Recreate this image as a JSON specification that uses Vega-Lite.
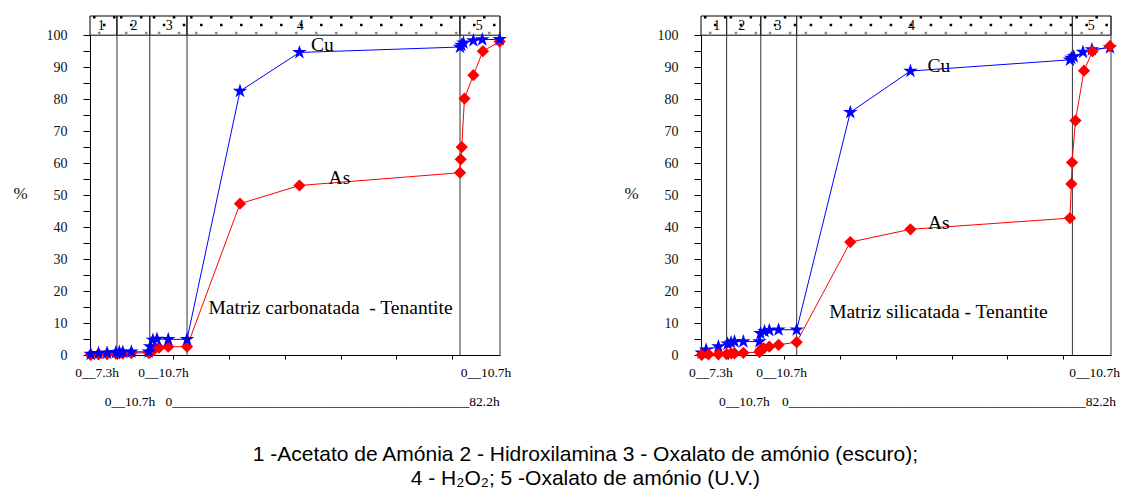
{
  "$schema": "https://vega.github.io/schema/vega-lite/v6.json",
  "background": "#ffffff",
  "autosize": {"type": "pad"},
  "padding": {"left": 12, "top": 15, "right": 0, "bottom": 4},
  "spacing": 201,
  "bounds": "flush",
  "config": {
    "view": {"stroke": null},
    "font": "Liberation Serif",
    "text": {"font": "Liberation Serif", "color": "#000000"},
    "axis": {
      "grid": false,
      "domainColor": "#000000",
      "tickColor": "#000000",
      "labelColor": "#111111",
      "labelFont": "Liberation Serif",
      "labelFontSize": 14,
      "titleFont": "Liberation Serif",
      "titleColor": "#111111"
    },
    "axisY": {"labelFont": "Liberation Serif", "labelFontSize": 14, "labelOverlap": false}
  },
  "title": {
    "text": [
      "1 -Acetato de Amónia  2 - Hidroxilamina  3 - Oxalato de amónio (escuro);",
      "4 - H₂O₂; 5 -Oxalato de amónio (U.V.)"
    ],
    "orient": "bottom",
    "anchor": "middle",
    "frame": "bounds",
    "dx": 19,
    "offset": 35,
    "font": "Liberation Sans",
    "fontSize": 21,
    "fontWeight": "normal",
    "color": "#000000",
    "lineHeight": 24
  },
  "datasets": {
    "stages": [
      {"panel": "C", "stage": "1", "x0": 0, "x1": 7.9, "hx": 3.3},
      {"panel": "C", "stage": "2", "x0": 7.9, "x1": 17.5, "hx": 12.9},
      {"panel": "C", "stage": "3", "x0": 17.5, "x1": 28.4, "hx": 23.2},
      {"panel": "C", "stage": "4", "x0": 28.4, "x1": 108.3, "hx": 61.5},
      {"panel": "C", "stage": "5", "x0": 108.3, "x1": 120, "hx": 113.9},
      {"panel": "S", "stage": "1", "x0": 0, "x1": 7.5, "hx": 4.6},
      {"panel": "S", "stage": "2", "x0": 7.5, "x1": 17.5, "hx": 11.9},
      {"panel": "S", "stage": "3", "x0": 17.5, "x1": 28.0, "hx": 22.5},
      {"panel": "S", "stage": "4", "x0": 28.0, "x1": 108.7, "hx": 61.6},
      {"panel": "S", "stage": "5", "x0": 108.7, "x1": 120, "hx": 114.2}
    ],
    "series": [
      {"panel": "C", "element": "As", "pos": 0.2, "pct": 0.0},
      {"panel": "C", "element": "As", "pos": 2.5, "pct": 0.2},
      {"panel": "C", "element": "As", "pos": 5.0, "pct": 0.3},
      {"panel": "C", "element": "As", "pos": 7.6, "pct": 0.4},
      {"panel": "C", "element": "As", "pos": 8.6, "pct": 0.5},
      {"panel": "C", "element": "As", "pos": 9.6, "pct": 0.5},
      {"panel": "C", "element": "As", "pos": 12.1, "pct": 0.6},
      {"panel": "C", "element": "As", "pos": 17.2, "pct": 0.7},
      {"panel": "C", "element": "As", "pos": 17.6, "pct": 0.8},
      {"panel": "C", "element": "As", "pos": 18.6, "pct": 1.6},
      {"panel": "C", "element": "As", "pos": 20.2, "pct": 2.3},
      {"panel": "C", "element": "As", "pos": 22.9, "pct": 2.6},
      {"panel": "C", "element": "As", "pos": 28.4, "pct": 2.6},
      {"panel": "C", "element": "As", "pos": 43.9, "pct": 47.3},
      {"panel": "C", "element": "As", "pos": 61.3, "pct": 53.0},
      {"panel": "C", "element": "As", "pos": 108.3, "pct": 57.0},
      {"panel": "C", "element": "As", "pos": 108.5, "pct": 61.2},
      {"panel": "C", "element": "As", "pos": 108.8, "pct": 65.0},
      {"panel": "C", "element": "As", "pos": 109.6, "pct": 80.2},
      {"panel": "C", "element": "As", "pos": 112.2, "pct": 87.5},
      {"panel": "C", "element": "As", "pos": 115.0, "pct": 95.0},
      {"panel": "C", "element": "As", "pos": 119.9, "pct": 98.0},
      {"panel": "C", "element": "Cu", "pos": 0.2, "pct": 0.3},
      {"panel": "C", "element": "Cu", "pos": 2.5, "pct": 0.5},
      {"panel": "C", "element": "Cu", "pos": 5.0, "pct": 0.7},
      {"panel": "C", "element": "Cu", "pos": 7.6, "pct": 0.8},
      {"panel": "C", "element": "Cu", "pos": 8.6, "pct": 0.9},
      {"panel": "C", "element": "Cu", "pos": 9.6, "pct": 0.9},
      {"panel": "C", "element": "Cu", "pos": 12.1, "pct": 1.0},
      {"panel": "C", "element": "Cu", "pos": 17.2, "pct": 1.0},
      {"panel": "C", "element": "Cu", "pos": 17.6, "pct": 2.6},
      {"panel": "C", "element": "Cu", "pos": 18.4, "pct": 4.7},
      {"panel": "C", "element": "Cu", "pos": 19.6, "pct": 5.0},
      {"panel": "C", "element": "Cu", "pos": 22.9, "pct": 4.9},
      {"panel": "C", "element": "Cu", "pos": 28.4, "pct": 4.9},
      {"panel": "C", "element": "Cu", "pos": 43.9, "pct": 82.5},
      {"panel": "C", "element": "Cu", "pos": 61.3, "pct": 94.6},
      {"panel": "C", "element": "Cu", "pos": 108.3, "pct": 96.3},
      {"panel": "C", "element": "Cu", "pos": 108.7, "pct": 96.9},
      {"panel": "C", "element": "Cu", "pos": 109.3, "pct": 97.6},
      {"panel": "C", "element": "Cu", "pos": 112.2, "pct": 98.3},
      {"panel": "C", "element": "Cu", "pos": 114.8, "pct": 98.6},
      {"panel": "C", "element": "Cu", "pos": 119.9, "pct": 98.7},
      {"panel": "S", "element": "As", "pos": 0.2, "pct": 0.0},
      {"panel": "S", "element": "As", "pos": 2.2, "pct": 0.2},
      {"panel": "S", "element": "As", "pos": 5.1, "pct": 0.2},
      {"panel": "S", "element": "As", "pos": 7.5, "pct": 0.3},
      {"panel": "S", "element": "As", "pos": 8.8, "pct": 0.5},
      {"panel": "S", "element": "As", "pos": 9.8, "pct": 0.5},
      {"panel": "S", "element": "As", "pos": 12.4, "pct": 0.7},
      {"panel": "S", "element": "As", "pos": 17.1, "pct": 0.9},
      {"panel": "S", "element": "As", "pos": 17.4, "pct": 1.6},
      {"panel": "S", "element": "As", "pos": 18.4, "pct": 2.1},
      {"panel": "S", "element": "As", "pos": 20.0, "pct": 2.6},
      {"panel": "S", "element": "As", "pos": 22.7, "pct": 3.2},
      {"panel": "S", "element": "As", "pos": 28.0, "pct": 4.0},
      {"panel": "S", "element": "As", "pos": 43.7, "pct": 35.3},
      {"panel": "S", "element": "As", "pos": 61.3, "pct": 39.3},
      {"panel": "S", "element": "As", "pos": 108.0, "pct": 42.8},
      {"panel": "S", "element": "As", "pos": 108.4, "pct": 53.5},
      {"panel": "S", "element": "As", "pos": 108.6, "pct": 60.2},
      {"panel": "S", "element": "As", "pos": 109.6, "pct": 73.3},
      {"panel": "S", "element": "As", "pos": 112.1, "pct": 88.9},
      {"panel": "S", "element": "As", "pos": 114.6, "pct": 95.0},
      {"panel": "S", "element": "As", "pos": 119.7, "pct": 96.6},
      {"panel": "S", "element": "Cu", "pos": 0.2, "pct": 0.7},
      {"panel": "S", "element": "Cu", "pos": 1.5, "pct": 1.6},
      {"panel": "S", "element": "Cu", "pos": 5.1, "pct": 2.6},
      {"panel": "S", "element": "Cu", "pos": 7.8, "pct": 3.5},
      {"panel": "S", "element": "Cu", "pos": 8.8, "pct": 3.9},
      {"panel": "S", "element": "Cu", "pos": 9.8, "pct": 4.2},
      {"panel": "S", "element": "Cu", "pos": 12.4, "pct": 4.2},
      {"panel": "S", "element": "Cu", "pos": 17.1, "pct": 4.2},
      {"panel": "S", "element": "Cu", "pos": 17.4, "pct": 6.8},
      {"panel": "S", "element": "Cu", "pos": 18.6, "pct": 7.4},
      {"panel": "S", "element": "Cu", "pos": 20.0, "pct": 7.7},
      {"panel": "S", "element": "Cu", "pos": 22.7, "pct": 7.9},
      {"panel": "S", "element": "Cu", "pos": 28.0, "pct": 7.9},
      {"panel": "S", "element": "Cu", "pos": 43.7, "pct": 75.9},
      {"panel": "S", "element": "Cu", "pos": 61.3, "pct": 88.8},
      {"panel": "S", "element": "Cu", "pos": 108.0, "pct": 92.3},
      {"panel": "S", "element": "Cu", "pos": 108.4, "pct": 92.8},
      {"panel": "S", "element": "Cu", "pos": 109.1, "pct": 93.3},
      {"panel": "S", "element": "Cu", "pos": 111.8, "pct": 94.7},
      {"panel": "S", "element": "Cu", "pos": 114.4, "pct": 95.5},
      {"panel": "S", "element": "Cu", "pos": 119.7, "pct": 96.1}
    ],
    "notes": [
      {"panel": "C", "label": "Cu", "pos": 68.0, "pct": 96.8},
      {"panel": "C", "label": "As", "pos": 73.0, "pct": 55.3},
      {"panel": "C", "label": "Matriz carbonatada \u00a0- Tenantite", "pos": 70.4, "pct": 14.8},
      {"panel": "S", "label": "Cu", "pos": 69.6, "pct": 90.3},
      {"panel": "S", "label": "As", "pos": 69.6, "pct": 41.2},
      {"panel": "S", "label": "Matriz silicatada - Tenantite", "pos": 69.5, "pct": 13.4}
    ],
    "timelabels": [
      {"panel": "C", "row": 1, "pos": 2.1, "label": "0__7.3h"},
      {"panel": "C", "row": 1, "pos": 21.5, "label": "0__10.7h"},
      {"panel": "C", "row": 1, "pos": 115.9, "label": "0__10.7h"},
      {"panel": "C", "row": 2, "pos": 11.7, "label": "0__10.7h"},
      {"panel": "C", "row": 2, "pos": 71.0, "label": "0____________________________________________82.2h"},
      {"panel": "S", "row": 1, "pos": 2.9, "label": "0__7.3h"},
      {"panel": "S", "row": 1, "pos": 23.6, "label": "0__10.7h"},
      {"panel": "S", "row": 1, "pos": 115.2, "label": "0__10.7h"},
      {"panel": "S", "row": 2, "pos": 12.7, "label": "0__10.7h"},
      {"panel": "S", "row": 2, "pos": 72.6, "label": "0____________________________________________82.2h"}
    ]
  },
  "hconcat": [
    {
      "width": 410,
      "height": 339,
      "layer": [
        {
          "data": {"name": "stages"},
          "transform": [{"filter": "datum.panel === 'C'"}],
          "mark": {"type": "rect", "fill": "#ffffff", "stroke": "#000000", "strokeWidth": 1},
          "encoding": {
            "x": {"field": "x0", "type": "quantitative", "scale": {"domain": [0, 120], "nice": false, "zero": false},
              "axis": {"values": [8, 24.2, 40.6, 57, 73.4, 89.7, 105.9], "labels": false, "tickSize": 4, "title": null}},
            "x2": {"field": "x1"},
            "y": {"datum": 100, "type": "quantitative", "scale": {"domain": [0, 106], "nice": false, "zero": false},
              "axis": {"values": [0, 5, 10, 15, 20, 25, 30, 35, 40, 45, 50, 55, 60, 65, 70, 75, 80, 85, 90, 95, 100], "labelExpr": "datum.value % 10 === 0 ? datum.label : ''", "labelOverlap": false, "labelFont": "Liberation Serif", "labelFontSize": 14, "tickSize": 7, "labelPadding": 16, "title": "%", "titleAngle": 0, "titleX": -70, "titleY": 177, "titleAlign": "center", "titleBaseline": "middle", "titleFont": "Liberation Serif", "titleFontSize": 17, "titleFontWeight": "normal"}},
            "y2": {"datum": 106}
          }
        },
        {
          "data": {"name": "stages"},
          "transform": [{"filter": "datum.panel === 'C'"}],
          "mark": {"type": "rule", "color": "#000000", "strokeWidth": 2.5, "strokeDash": [2.5, 17.5], "strokeDashOffset": -3},
          "encoding": {
            "x": {"field": "x0", "type": "quantitative", "axis": {"values": [8, 24.2, 40.6, 57, 73.4, 89.7, 105.9], "labels": false, "tickSize": 4, "title": null}},
            "x2": {"field": "x1"},
            "y": {"datum": 105.6, "type": "quantitative", "axis": {"values": [0, 5, 10, 15, 20, 25, 30, 35, 40, 45, 50, 55, 60, 65, 70, 75, 80, 85, 90, 95, 100], "labelExpr": "datum.value % 10 === 0 ? datum.label : ''", "labelOverlap": false, "labelFont": "Liberation Serif", "labelFontSize": 14, "tickSize": 7, "labelPadding": 16, "title": "%", "titleAngle": 0, "titleX": -70, "titleY": 177, "titleAlign": "center", "titleBaseline": "middle", "titleFont": "Liberation Serif", "titleFontSize": 17, "titleFontWeight": "normal"}}
          }
        },
        {
          "data": {"name": "stages"},
          "transform": [{"filter": "datum.panel === 'C'"}],
          "mark": {"type": "rule", "color": "#000000", "strokeWidth": 2.5, "strokeDash": [2.5, 17.5], "strokeDashOffset": -13},
          "encoding": {
            "x": {"field": "x0", "type": "quantitative", "axis": {"values": [8, 24.2, 40.6, 57, 73.4, 89.7, 105.9], "labels": false, "tickSize": 4, "title": null}},
            "x2": {"field": "x1"},
            "y": {"datum": 103.2, "type": "quantitative", "axis": {"values": [0, 5, 10, 15, 20, 25, 30, 35, 40, 45, 50, 55, 60, 65, 70, 75, 80, 85, 90, 95, 100], "labelExpr": "datum.value % 10 === 0 ? datum.label : ''", "labelOverlap": false, "labelFont": "Liberation Serif", "labelFontSize": 14, "tickSize": 7, "labelPadding": 16, "title": "%", "titleAngle": 0, "titleX": -70, "titleY": 177, "titleAlign": "center", "titleBaseline": "middle", "titleFont": "Liberation Serif", "titleFontSize": 17, "titleFontWeight": "normal"}}
          }
        },
        {
          "data": {"name": "stages"},
          "transform": [{"filter": "datum.panel === 'C'"}],
          "mark": {"type": "rule", "color": "#8a8a8a", "strokeWidth": 2.5, "strokeDash": [2.5, 17.5], "strokeDashOffset": -8},
          "encoding": {
            "x": {"field": "x0", "type": "quantitative", "axis": {"values": [8, 24.2, 40.6, 57, 73.4, 89.7, 105.9], "labels": false, "tickSize": 4, "title": null}},
            "x2": {"field": "x1"},
            "y": {"datum": 100.7, "type": "quantitative", "axis": {"values": [0, 5, 10, 15, 20, 25, 30, 35, 40, 45, 50, 55, 60, 65, 70, 75, 80, 85, 90, 95, 100], "labelExpr": "datum.value % 10 === 0 ? datum.label : ''", "labelOverlap": false, "labelFont": "Liberation Serif", "labelFontSize": 14, "tickSize": 7, "labelPadding": 16, "title": "%", "titleAngle": 0, "titleX": -70, "titleY": 177, "titleAlign": "center", "titleBaseline": "middle", "titleFont": "Liberation Serif", "titleFontSize": 17, "titleFontWeight": "normal"}}
          }
        },
        {
          "data": {"name": "stages"},
          "transform": [{"filter": "datum.panel === 'C'"}],
          "mark": {"type": "rule", "color": "#333333", "strokeWidth": 1},
          "encoding": {
            "x": {"field": "x1", "type": "quantitative", "axis": {"values": [8, 24.2, 40.6, 57, 73.4, 89.7, 105.9], "labels": false, "tickSize": 4, "title": null}},
            "y": {"datum": 0, "type": "quantitative", "axis": {"values": [0, 5, 10, 15, 20, 25, 30, 35, 40, 45, 50, 55, 60, 65, 70, 75, 80, 85, 90, 95, 100], "labelExpr": "datum.value % 10 === 0 ? datum.label : ''", "labelOverlap": false, "labelFont": "Liberation Serif", "labelFontSize": 14, "tickSize": 7, "labelPadding": 16, "title": "%", "titleAngle": 0, "titleX": -70, "titleY": 177, "titleAlign": "center", "titleBaseline": "middle", "titleFont": "Liberation Serif", "titleFontSize": 17, "titleFontWeight": "normal"}},
            "y2": {"datum": 106}
          }
        },
        {
          "data": {"name": "stages"},
          "transform": [{"filter": "datum.panel === 'C'"}],
          "mark": {"type": "text", "fontSize": 14, "baseline": "middle", "align": "center"},
          "encoding": {
            "x": {"field": "hx", "type": "quantitative", "axis": {"values": [8, 24.2, 40.6, 57, 73.4, 89.7, 105.9], "labels": false, "tickSize": 4, "title": null}},
            "y": {"datum": 103, "type": "quantitative", "axis": {"values": [0, 5, 10, 15, 20, 25, 30, 35, 40, 45, 50, 55, 60, 65, 70, 75, 80, 85, 90, 95, 100], "labelExpr": "datum.value % 10 === 0 ? datum.label : ''", "labelOverlap": false, "labelFont": "Liberation Serif", "labelFontSize": 14, "tickSize": 7, "labelPadding": 16, "title": "%", "titleAngle": 0, "titleX": -70, "titleY": 177, "titleAlign": "center", "titleBaseline": "middle", "titleFont": "Liberation Serif", "titleFontSize": 17, "titleFontWeight": "normal"}},
            "text": {"field": "stage"}
          }
        },
        {
          "data": {"name": "series"},
          "transform": [{"filter": "datum.panel === 'C' && datum.element === 'As'"}],
          "mark": {"type": "line", "color": "#ff0000", "strokeWidth": 1},
          "encoding": {
            "x": {"field": "pos", "type": "quantitative", "axis": {"values": [8, 24.2, 40.6, 57, 73.4, 89.7, 105.9], "labels": false, "tickSize": 4, "title": null}},
            "y": {"field": "pct", "type": "quantitative", "axis": {"values": [0, 5, 10, 15, 20, 25, 30, 35, 40, 45, 50, 55, 60, 65, 70, 75, 80, 85, 90, 95, 100], "labelExpr": "datum.value % 10 === 0 ? datum.label : ''", "labelOverlap": false, "labelFont": "Liberation Serif", "labelFontSize": 14, "tickSize": 7, "labelPadding": 16, "title": "%", "titleAngle": 0, "titleX": -70, "titleY": 177, "titleAlign": "center", "titleBaseline": "middle", "titleFont": "Liberation Serif", "titleFontSize": 17, "titleFontWeight": "normal"}}
          }
        },
        {
          "data": {"name": "series"},
          "transform": [{"filter": "datum.panel === 'C' && datum.element === 'Cu'"}],
          "mark": {"type": "line", "color": "#0000ff", "strokeWidth": 1},
          "encoding": {
            "x": {"field": "pos", "type": "quantitative", "axis": {"values": [8, 24.2, 40.6, 57, 73.4, 89.7, 105.9], "labels": false, "tickSize": 4, "title": null}},
            "y": {"field": "pct", "type": "quantitative", "axis": {"values": [0, 5, 10, 15, 20, 25, 30, 35, 40, 45, 50, 55, 60, 65, 70, 75, 80, 85, 90, 95, 100], "labelExpr": "datum.value % 10 === 0 ? datum.label : ''", "labelOverlap": false, "labelFont": "Liberation Serif", "labelFontSize": 14, "tickSize": 7, "labelPadding": 16, "title": "%", "titleAngle": 0, "titleX": -70, "titleY": 177, "titleAlign": "center", "titleBaseline": "middle", "titleFont": "Liberation Serif", "titleFontSize": 17, "titleFontWeight": "normal"}}
          }
        },
        {
          "data": {"name": "series"},
          "transform": [{"filter": "datum.panel === 'C' && datum.element === 'As'"}],
          "mark": {"type": "point", "shape": "diamond", "filled": true, "color": "#ff0000", "size": 150, "opacity": 1},
          "encoding": {
            "x": {"field": "pos", "type": "quantitative", "axis": {"values": [8, 24.2, 40.6, 57, 73.4, 89.7, 105.9], "labels": false, "tickSize": 4, "title": null}},
            "y": {"field": "pct", "type": "quantitative", "axis": {"values": [0, 5, 10, 15, 20, 25, 30, 35, 40, 45, 50, 55, 60, 65, 70, 75, 80, 85, 90, 95, 100], "labelExpr": "datum.value % 10 === 0 ? datum.label : ''", "labelOverlap": false, "labelFont": "Liberation Serif", "labelFontSize": 14, "tickSize": 7, "labelPadding": 16, "title": "%", "titleAngle": 0, "titleX": -70, "titleY": 177, "titleAlign": "center", "titleBaseline": "middle", "titleFont": "Liberation Serif", "titleFontSize": 17, "titleFontWeight": "normal"}}
          }
        },
        {
          "data": {"name": "series"},
          "transform": [{"filter": "datum.panel === 'C' && datum.element === 'Cu'"}],
          "mark": {"type": "point", "shape": "M0,-1L0.2245,-0.309L0.9511,-0.309L0.3633,0.118L0.5878,0.809L0,0.382L-0.5878,0.809L-0.3633,0.118L-0.9511,-0.309L-0.2245,-0.309Z", "filled": true, "color": "#0000ff", "size": 230, "opacity": 1},
          "encoding": {
            "x": {"field": "pos", "type": "quantitative", "axis": {"values": [8, 24.2, 40.6, 57, 73.4, 89.7, 105.9], "labels": false, "tickSize": 4, "title": null}},
            "y": {"field": "pct", "type": "quantitative", "axis": {"values": [0, 5, 10, 15, 20, 25, 30, 35, 40, 45, 50, 55, 60, 65, 70, 75, 80, 85, 90, 95, 100], "labelExpr": "datum.value % 10 === 0 ? datum.label : ''", "labelOverlap": false, "labelFont": "Liberation Serif", "labelFontSize": 14, "tickSize": 7, "labelPadding": 16, "title": "%", "titleAngle": 0, "titleX": -70, "titleY": 177, "titleAlign": "center", "titleBaseline": "middle", "titleFont": "Liberation Serif", "titleFontSize": 17, "titleFontWeight": "normal"}}
          }
        },
        {
          "data": {"name": "notes"},
          "transform": [{"filter": "datum.panel === 'C'"}],
          "mark": {"type": "text", "fontSize": 19.5, "baseline": "middle", "align": "center"},
          "encoding": {
            "x": {"field": "pos", "type": "quantitative", "axis": {"values": [8, 24.2, 40.6, 57, 73.4, 89.7, 105.9], "labels": false, "tickSize": 4, "title": null}},
            "y": {"field": "pct", "type": "quantitative", "axis": {"values": [0, 5, 10, 15, 20, 25, 30, 35, 40, 45, 50, 55, 60, 65, 70, 75, 80, 85, 90, 95, 100], "labelExpr": "datum.value % 10 === 0 ? datum.label : ''", "labelOverlap": false, "labelFont": "Liberation Serif", "labelFontSize": 14, "tickSize": 7, "labelPadding": 16, "title": "%", "titleAngle": 0, "titleX": -70, "titleY": 177, "titleAlign": "center", "titleBaseline": "middle", "titleFont": "Liberation Serif", "titleFontSize": 17, "titleFontWeight": "normal"}},
            "text": {"field": "label"}
          }
        },
        {
          "data": {"name": "timelabels"},
          "transform": [{"filter": "datum.panel === 'C' && datum.row === 1"}],
          "mark": {"type": "text", "fontSize": 13.5, "baseline": "middle", "align": "center", "dy": 18},
          "encoding": {
            "x": {"field": "pos", "type": "quantitative", "axis": {"values": [8, 24.2, 40.6, 57, 73.4, 89.7, 105.9], "labels": false, "tickSize": 4, "title": null}},
            "y": {"datum": 0, "type": "quantitative", "axis": {"values": [0, 5, 10, 15, 20, 25, 30, 35, 40, 45, 50, 55, 60, 65, 70, 75, 80, 85, 90, 95, 100], "labelExpr": "datum.value % 10 === 0 ? datum.label : ''", "labelOverlap": false, "labelFont": "Liberation Serif", "labelFontSize": 14, "tickSize": 7, "labelPadding": 16, "title": "%", "titleAngle": 0, "titleX": -70, "titleY": 177, "titleAlign": "center", "titleBaseline": "middle", "titleFont": "Liberation Serif", "titleFontSize": 17, "titleFontWeight": "normal"}},
            "text": {"field": "label"}
          }
        },
        {
          "data": {"name": "timelabels"},
          "transform": [{"filter": "datum.panel === 'C' && datum.row === 2"}],
          "mark": {"type": "text", "fontSize": 13.5, "baseline": "middle", "align": "center", "dy": 47},
          "encoding": {
            "x": {"field": "pos", "type": "quantitative", "axis": {"values": [8, 24.2, 40.6, 57, 73.4, 89.7, 105.9], "labels": false, "tickSize": 4, "title": null}},
            "y": {"datum": 0, "type": "quantitative", "axis": {"values": [0, 5, 10, 15, 20, 25, 30, 35, 40, 45, 50, 55, 60, 65, 70, 75, 80, 85, 90, 95, 100], "labelExpr": "datum.value % 10 === 0 ? datum.label : ''", "labelOverlap": false, "labelFont": "Liberation Serif", "labelFontSize": 14, "tickSize": 7, "labelPadding": 16, "title": "%", "titleAngle": 0, "titleX": -70, "titleY": 177, "titleAlign": "center", "titleBaseline": "middle", "titleFont": "Liberation Serif", "titleFontSize": 17, "titleFontWeight": "normal"}},
            "text": {"field": "label"}
          }
        }
      ]
    },
    {
      "width": 410,
      "height": 339,
      "layer": [
        {
          "data": {"name": "stages"},
          "transform": [{"filter": "datum.panel === 'S'"}],
          "mark": {"type": "rect", "fill": "#ffffff", "stroke": "#000000", "strokeWidth": 1},
          "encoding": {
            "x": {"field": "x0", "type": "quantitative", "scale": {"domain": [0, 120], "nice": false, "zero": false},
              "axis": {"values": [8, 24.2, 40.6, 57, 73.4, 89.7, 105.9], "labels": false, "tickSize": 4, "title": null}},
            "x2": {"field": "x1"},
            "y": {"datum": 100, "type": "quantitative", "scale": {"domain": [0, 106], "nice": false, "zero": false},
              "axis": {"values": [0, 5, 10, 15, 20, 25, 30, 35, 40, 45, 50, 55, 60, 65, 70, 75, 80, 85, 90, 95, 100], "labelExpr": "datum.value % 10 === 0 ? datum.label : ''", "labelOverlap": false, "labelFont": "Liberation Serif", "labelFontSize": 14, "tickSize": 7, "labelPadding": 16, "title": "%", "titleAngle": 0, "titleX": -70, "titleY": 177, "titleAlign": "center", "titleBaseline": "middle", "titleFont": "Liberation Serif", "titleFontSize": 17, "titleFontWeight": "normal"}},
            "y2": {"datum": 106}
          }
        },
        {
          "data": {"name": "stages"},
          "transform": [{"filter": "datum.panel === 'S'"}],
          "mark": {"type": "rule", "color": "#000000", "strokeWidth": 2.5, "strokeDash": [2.5, 17.5], "strokeDashOffset": -3},
          "encoding": {
            "x": {"field": "x0", "type": "quantitative", "axis": {"values": [8, 24.2, 40.6, 57, 73.4, 89.7, 105.9], "labels": false, "tickSize": 4, "title": null}},
            "x2": {"field": "x1"},
            "y": {"datum": 105.6, "type": "quantitative", "axis": {"values": [0, 5, 10, 15, 20, 25, 30, 35, 40, 45, 50, 55, 60, 65, 70, 75, 80, 85, 90, 95, 100], "labelExpr": "datum.value % 10 === 0 ? datum.label : ''", "labelOverlap": false, "labelFont": "Liberation Serif", "labelFontSize": 14, "tickSize": 7, "labelPadding": 16, "title": "%", "titleAngle": 0, "titleX": -70, "titleY": 177, "titleAlign": "center", "titleBaseline": "middle", "titleFont": "Liberation Serif", "titleFontSize": 17, "titleFontWeight": "normal"}}
          }
        },
        {
          "data": {"name": "stages"},
          "transform": [{"filter": "datum.panel === 'S'"}],
          "mark": {"type": "rule", "color": "#000000", "strokeWidth": 2.5, "strokeDash": [2.5, 17.5], "strokeDashOffset": -13},
          "encoding": {
            "x": {"field": "x0", "type": "quantitative", "axis": {"values": [8, 24.2, 40.6, 57, 73.4, 89.7, 105.9], "labels": false, "tickSize": 4, "title": null}},
            "x2": {"field": "x1"},
            "y": {"datum": 103.2, "type": "quantitative", "axis": {"values": [0, 5, 10, 15, 20, 25, 30, 35, 40, 45, 50, 55, 60, 65, 70, 75, 80, 85, 90, 95, 100], "labelExpr": "datum.value % 10 === 0 ? datum.label : ''", "labelOverlap": false, "labelFont": "Liberation Serif", "labelFontSize": 14, "tickSize": 7, "labelPadding": 16, "title": "%", "titleAngle": 0, "titleX": -70, "titleY": 177, "titleAlign": "center", "titleBaseline": "middle", "titleFont": "Liberation Serif", "titleFontSize": 17, "titleFontWeight": "normal"}}
          }
        },
        {
          "data": {"name": "stages"},
          "transform": [{"filter": "datum.panel === 'S'"}],
          "mark": {"type": "rule", "color": "#8a8a8a", "strokeWidth": 2.5, "strokeDash": [2.5, 17.5], "strokeDashOffset": -8},
          "encoding": {
            "x": {"field": "x0", "type": "quantitative", "axis": {"values": [8, 24.2, 40.6, 57, 73.4, 89.7, 105.9], "labels": false, "tickSize": 4, "title": null}},
            "x2": {"field": "x1"},
            "y": {"datum": 100.7, "type": "quantitative", "axis": {"values": [0, 5, 10, 15, 20, 25, 30, 35, 40, 45, 50, 55, 60, 65, 70, 75, 80, 85, 90, 95, 100], "labelExpr": "datum.value % 10 === 0 ? datum.label : ''", "labelOverlap": false, "labelFont": "Liberation Serif", "labelFontSize": 14, "tickSize": 7, "labelPadding": 16, "title": "%", "titleAngle": 0, "titleX": -70, "titleY": 177, "titleAlign": "center", "titleBaseline": "middle", "titleFont": "Liberation Serif", "titleFontSize": 17, "titleFontWeight": "normal"}}
          }
        },
        {
          "data": {"name": "stages"},
          "transform": [{"filter": "datum.panel === 'S'"}],
          "mark": {"type": "rule", "color": "#333333", "strokeWidth": 1},
          "encoding": {
            "x": {"field": "x1", "type": "quantitative", "axis": {"values": [8, 24.2, 40.6, 57, 73.4, 89.7, 105.9], "labels": false, "tickSize": 4, "title": null}},
            "y": {"datum": 0, "type": "quantitative", "axis": {"values": [0, 5, 10, 15, 20, 25, 30, 35, 40, 45, 50, 55, 60, 65, 70, 75, 80, 85, 90, 95, 100], "labelExpr": "datum.value % 10 === 0 ? datum.label : ''", "labelOverlap": false, "labelFont": "Liberation Serif", "labelFontSize": 14, "tickSize": 7, "labelPadding": 16, "title": "%", "titleAngle": 0, "titleX": -70, "titleY": 177, "titleAlign": "center", "titleBaseline": "middle", "titleFont": "Liberation Serif", "titleFontSize": 17, "titleFontWeight": "normal"}},
            "y2": {"datum": 106}
          }
        },
        {
          "data": {"name": "stages"},
          "transform": [{"filter": "datum.panel === 'S'"}],
          "mark": {"type": "text", "fontSize": 14, "baseline": "middle", "align": "center"},
          "encoding": {
            "x": {"field": "hx", "type": "quantitative", "axis": {"values": [8, 24.2, 40.6, 57, 73.4, 89.7, 105.9], "labels": false, "tickSize": 4, "title": null}},
            "y": {"datum": 103, "type": "quantitative", "axis": {"values": [0, 5, 10, 15, 20, 25, 30, 35, 40, 45, 50, 55, 60, 65, 70, 75, 80, 85, 90, 95, 100], "labelExpr": "datum.value % 10 === 0 ? datum.label : ''", "labelOverlap": false, "labelFont": "Liberation Serif", "labelFontSize": 14, "tickSize": 7, "labelPadding": 16, "title": "%", "titleAngle": 0, "titleX": -70, "titleY": 177, "titleAlign": "center", "titleBaseline": "middle", "titleFont": "Liberation Serif", "titleFontSize": 17, "titleFontWeight": "normal"}},
            "text": {"field": "stage"}
          }
        },
        {
          "data": {"name": "series"},
          "transform": [{"filter": "datum.panel === 'S' && datum.element === 'As'"}],
          "mark": {"type": "line", "color": "#ff0000", "strokeWidth": 1},
          "encoding": {
            "x": {"field": "pos", "type": "quantitative", "axis": {"values": [8, 24.2, 40.6, 57, 73.4, 89.7, 105.9], "labels": false, "tickSize": 4, "title": null}},
            "y": {"field": "pct", "type": "quantitative", "axis": {"values": [0, 5, 10, 15, 20, 25, 30, 35, 40, 45, 50, 55, 60, 65, 70, 75, 80, 85, 90, 95, 100], "labelExpr": "datum.value % 10 === 0 ? datum.label : ''", "labelOverlap": false, "labelFont": "Liberation Serif", "labelFontSize": 14, "tickSize": 7, "labelPadding": 16, "title": "%", "titleAngle": 0, "titleX": -70, "titleY": 177, "titleAlign": "center", "titleBaseline": "middle", "titleFont": "Liberation Serif", "titleFontSize": 17, "titleFontWeight": "normal"}}
          }
        },
        {
          "data": {"name": "series"},
          "transform": [{"filter": "datum.panel === 'S' && datum.element === 'Cu'"}],
          "mark": {"type": "line", "color": "#0000ff", "strokeWidth": 1},
          "encoding": {
            "x": {"field": "pos", "type": "quantitative", "axis": {"values": [8, 24.2, 40.6, 57, 73.4, 89.7, 105.9], "labels": false, "tickSize": 4, "title": null}},
            "y": {"field": "pct", "type": "quantitative", "axis": {"values": [0, 5, 10, 15, 20, 25, 30, 35, 40, 45, 50, 55, 60, 65, 70, 75, 80, 85, 90, 95, 100], "labelExpr": "datum.value % 10 === 0 ? datum.label : ''", "labelOverlap": false, "labelFont": "Liberation Serif", "labelFontSize": 14, "tickSize": 7, "labelPadding": 16, "title": "%", "titleAngle": 0, "titleX": -70, "titleY": 177, "titleAlign": "center", "titleBaseline": "middle", "titleFont": "Liberation Serif", "titleFontSize": 17, "titleFontWeight": "normal"}}
          }
        },
        {
          "data": {"name": "series"},
          "transform": [{"filter": "datum.panel === 'S' && datum.element === 'Cu'"}],
          "mark": {"type": "point", "shape": "M0,-1L0.2245,-0.309L0.9511,-0.309L0.3633,0.118L0.5878,0.809L0,0.382L-0.5878,0.809L-0.3633,0.118L-0.9511,-0.309L-0.2245,-0.309Z", "filled": true, "color": "#0000ff", "size": 230, "opacity": 1},
          "encoding": {
            "x": {"field": "pos", "type": "quantitative", "axis": {"values": [8, 24.2, 40.6, 57, 73.4, 89.7, 105.9], "labels": false, "tickSize": 4, "title": null}},
            "y": {"field": "pct", "type": "quantitative", "axis": {"values": [0, 5, 10, 15, 20, 25, 30, 35, 40, 45, 50, 55, 60, 65, 70, 75, 80, 85, 90, 95, 100], "labelExpr": "datum.value % 10 === 0 ? datum.label : ''", "labelOverlap": false, "labelFont": "Liberation Serif", "labelFontSize": 14, "tickSize": 7, "labelPadding": 16, "title": "%", "titleAngle": 0, "titleX": -70, "titleY": 177, "titleAlign": "center", "titleBaseline": "middle", "titleFont": "Liberation Serif", "titleFontSize": 17, "titleFontWeight": "normal"}}
          }
        },
        {
          "data": {"name": "series"},
          "transform": [{"filter": "datum.panel === 'S' && datum.element === 'As'"}],
          "mark": {"type": "point", "shape": "diamond", "filled": true, "color": "#ff0000", "size": 150, "opacity": 1},
          "encoding": {
            "x": {"field": "pos", "type": "quantitative", "axis": {"values": [8, 24.2, 40.6, 57, 73.4, 89.7, 105.9], "labels": false, "tickSize": 4, "title": null}},
            "y": {"field": "pct", "type": "quantitative", "axis": {"values": [0, 5, 10, 15, 20, 25, 30, 35, 40, 45, 50, 55, 60, 65, 70, 75, 80, 85, 90, 95, 100], "labelExpr": "datum.value % 10 === 0 ? datum.label : ''", "labelOverlap": false, "labelFont": "Liberation Serif", "labelFontSize": 14, "tickSize": 7, "labelPadding": 16, "title": "%", "titleAngle": 0, "titleX": -70, "titleY": 177, "titleAlign": "center", "titleBaseline": "middle", "titleFont": "Liberation Serif", "titleFontSize": 17, "titleFontWeight": "normal"}}
          }
        },
        {
          "data": {"name": "notes"},
          "transform": [{"filter": "datum.panel === 'S'"}],
          "mark": {"type": "text", "fontSize": 19.5, "baseline": "middle", "align": "center"},
          "encoding": {
            "x": {"field": "pos", "type": "quantitative", "axis": {"values": [8, 24.2, 40.6, 57, 73.4, 89.7, 105.9], "labels": false, "tickSize": 4, "title": null}},
            "y": {"field": "pct", "type": "quantitative", "axis": {"values": [0, 5, 10, 15, 20, 25, 30, 35, 40, 45, 50, 55, 60, 65, 70, 75, 80, 85, 90, 95, 100], "labelExpr": "datum.value % 10 === 0 ? datum.label : ''", "labelOverlap": false, "labelFont": "Liberation Serif", "labelFontSize": 14, "tickSize": 7, "labelPadding": 16, "title": "%", "titleAngle": 0, "titleX": -70, "titleY": 177, "titleAlign": "center", "titleBaseline": "middle", "titleFont": "Liberation Serif", "titleFontSize": 17, "titleFontWeight": "normal"}},
            "text": {"field": "label"}
          }
        },
        {
          "data": {"name": "timelabels"},
          "transform": [{"filter": "datum.panel === 'S' && datum.row === 1"}],
          "mark": {"type": "text", "fontSize": 13.5, "baseline": "middle", "align": "center", "dy": 18},
          "encoding": {
            "x": {"field": "pos", "type": "quantitative", "axis": {"values": [8, 24.2, 40.6, 57, 73.4, 89.7, 105.9], "labels": false, "tickSize": 4, "title": null}},
            "y": {"datum": 0, "type": "quantitative", "axis": {"values": [0, 5, 10, 15, 20, 25, 30, 35, 40, 45, 50, 55, 60, 65, 70, 75, 80, 85, 90, 95, 100], "labelExpr": "datum.value % 10 === 0 ? datum.label : ''", "labelOverlap": false, "labelFont": "Liberation Serif", "labelFontSize": 14, "tickSize": 7, "labelPadding": 16, "title": "%", "titleAngle": 0, "titleX": -70, "titleY": 177, "titleAlign": "center", "titleBaseline": "middle", "titleFont": "Liberation Serif", "titleFontSize": 17, "titleFontWeight": "normal"}},
            "text": {"field": "label"}
          }
        },
        {
          "data": {"name": "timelabels"},
          "transform": [{"filter": "datum.panel === 'S' && datum.row === 2"}],
          "mark": {"type": "text", "fontSize": 13.5, "baseline": "middle", "align": "center", "dy": 47},
          "encoding": {
            "x": {"field": "pos", "type": "quantitative", "axis": {"values": [8, 24.2, 40.6, 57, 73.4, 89.7, 105.9], "labels": false, "tickSize": 4, "title": null}},
            "y": {"datum": 0, "type": "quantitative", "axis": {"values": [0, 5, 10, 15, 20, 25, 30, 35, 40, 45, 50, 55, 60, 65, 70, 75, 80, 85, 90, 95, 100], "labelExpr": "datum.value % 10 === 0 ? datum.label : ''", "labelOverlap": false, "labelFont": "Liberation Serif", "labelFontSize": 14, "tickSize": 7, "labelPadding": 16, "title": "%", "titleAngle": 0, "titleX": -70, "titleY": 177, "titleAlign": "center", "titleBaseline": "middle", "titleFont": "Liberation Serif", "titleFontSize": 17, "titleFontWeight": "normal"}},
            "text": {"field": "label"}
          }
        }
      ]
    }
  ]
}
